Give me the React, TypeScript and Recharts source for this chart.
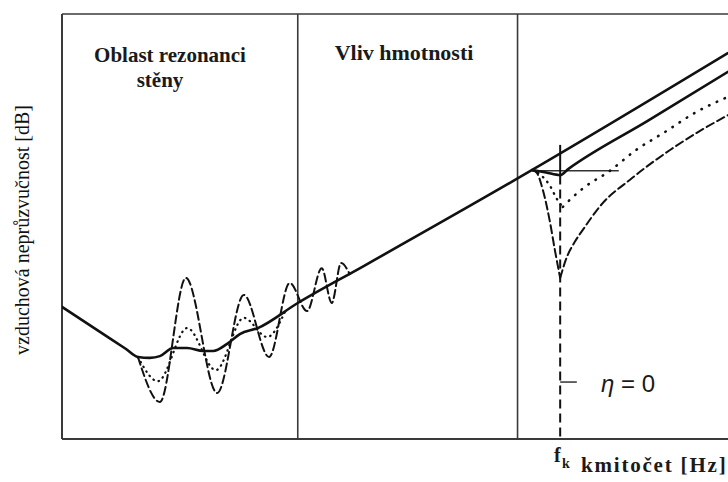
import React from 'react';
import { LineChart, Line, XAxis, YAxis, ReferenceLine } from 'recharts';

// x: relative log-frequency position (0..100), y: relative sound reduction index (0..100)

// solid: high damping curve (resonance region + mass law + continuation)
const massLawCurve = [
  { x: 0, y: 31.1 }, { x: 5.7, y: 25.2 }, { x: 9.5, y: 21.3 }, { x: 11.4, y: 19.3 },
  { x: 13.2, y: 19.1 }, { x: 14.7, y: 19.5 }, { x: 16.7, y: 21.4 }, { x: 18.8, y: 21.4 },
  { x: 21.2, y: 20.7 }, { x: 22.7, y: 20.7 }, { x: 24.8, y: 22.4 }, { x: 26.7, y: 24.7 },
  { x: 29.4, y: 26.1 }, { x: 35.4, y: 32.0 }, { x: 45.3, y: 40.7 }, { x: 70.6, y: 63.3 },
  { x: 100, y: 90.8 },
];

// dashed: low damping, resonance region
const dashedResonance = [
  { x: 11.4, y: 19.3 }, { x: 14.7, y: 8.7 }, { x: 18.6, y: 37.9 }, { x: 23.3, y: 10.8 },
  { x: 27.3, y: 33.9 }, { x: 31.1, y: 19.3 }, { x: 34.2, y: 36.7 }, { x: 36.8, y: 30.1 },
  { x: 39.0, y: 40.2 }, { x: 40.5, y: 32.0 }, { x: 41.9, y: 41.4 }, { x: 43.2, y: 38.8 },
];

// dotted: medium damping, resonance region
const dottedResonance = [
  { x: 11.4, y: 19.3 }, { x: 14.4, y: 13.6 }, { x: 18.8, y: 26.1 }, { x: 23.1, y: 16.2 },
  { x: 27.3, y: 28.5 }, { x: 30.8, y: 24.0 }, { x: 33.5, y: 30.0 },
];

// solid: high damping around coincidence frequency
const dampedCoincidence = [
  { x: 70.6, y: 63.3 }, { x: 72.7, y: 62.7 }, { x: 74.8, y: 62.1 }, { x: 76.0, y: 63.5 },
  { x: 88.0, y: 74.9 }, { x: 100, y: 86.4 },
];

// dotted: medium damping around coincidence frequency
const dottedCoincidenceLeft = [
  { x: 70.6, y: 63.3 }, { x: 71.9, y: 62.1 }, { x: 73.3, y: 59.5 }, { x: 74.3, y: 56.5 },
  { x: 75.2, y: 54.6 },
];
const dottedCoincidenceRight = [
  { x: 75.2, y: 54.6 }, { x: 76.4, y: 56.5 }, { x: 78.5, y: 59.3 }, { x: 82.0, y: 62.8 },
  { x: 86.2, y: 68.0 }, { x: 90.5, y: 72.2 }, { x: 95.2, y: 76.9 }, { x: 100, y: 80.5 },
];

// dashed: low damping around coincidence frequency
const dashedCoincidenceLeft = [
  { x: 70.6, y: 63.3 }, { x: 71.3, y: 62.6 }, { x: 72.2, y: 58.6 }, { x: 73.3, y: 50.8 },
  { x: 74.0, y: 44.5 }, { x: 74.8, y: 37.9 },
];
const dashedCoincidenceRight = [
  { x: 74.8, y: 37.9 }, { x: 75.8, y: 42.8 }, { x: 77.0, y: 46.4 }, { x: 78.2, y: 49.2 },
  { x: 80.8, y: 54.8 }, { x: 85.6, y: 61.4 }, { x: 91.3, y: 68.0 }, { x: 95.8, y: 72.5 },
  { x: 100, y: 76.2 },
];

// region borders and coincidence frequency
const regionBorders = [35.4, 68.4];
const fk = 74.8;
const fkTickTop = 69.2;
const fkSolidBottom = 62.0;
const etaTickY = 13.4;
const etaTickEnd = 77.3;
const plateauY = 63.1;
const plateauX = [70.6, 83.6];

const INK = '#111';
const FRAME = '#3a3a3a';
const SERIF = '"Liberation Serif", "Times New Roman", serif';
const SANS = '"Liberation Sans", Arial, sans-serif';

export default function App() {
  const lineCommon = {
    dataKey: 'y',
    type: 'monotone' as const,
    dot: false,
    activeDot: false,
    isAnimationActive: false,
    strokeLinecap: 'round' as const,
  };
  return (
    <div style={{ position: 'absolute', left: 0, top: 0, width: 728, height: 482, overflow: 'hidden', background: '#fff' }}>
      <LineChart width={728} height={482} margin={{ top: 14, right: 0, bottom: 43, left: 62 }}>
        <XAxis type="number" dataKey="x" domain={[0, 100]} hide allowDataOverflow />
        <YAxis type="number" dataKey="y" domain={[0, 100]} hide allowDataOverflow />
        <ReferenceLine x={0} stroke={FRAME} strokeWidth={2} ifOverflow="visible" />
        <ReferenceLine y={0} stroke={FRAME} strokeWidth={2} ifOverflow="visible" />
        <ReferenceLine y={100} stroke={FRAME} strokeWidth={1.6} ifOverflow="visible" />
        {regionBorders.map((b) => (
          <ReferenceLine key={b} x={b} stroke={FRAME} strokeWidth={1.6} ifOverflow="visible" />
        ))}
        <ReferenceLine segment={[{ x: plateauX[0], y: plateauY }, { x: plateauX[1], y: plateauY }]} stroke="#333" strokeWidth={1.5} ifOverflow="visible" />
        <ReferenceLine segment={[{ x: fk, y: fkTickTop }, { x: fk, y: fkSolidBottom }]} stroke={INK} strokeWidth={2} ifOverflow="visible" />
        <ReferenceLine segment={[{ x: fk, y: fkSolidBottom }, { x: fk, y: 0 }]} stroke={INK} strokeWidth={2} strokeDasharray="9 5" ifOverflow="visible" />
        <ReferenceLine segment={[{ x: fk, y: etaTickY }, { x: etaTickEnd, y: etaTickY }]} stroke="#333" strokeWidth={1.5} ifOverflow="visible" />

        <Line {...lineCommon} data={dashedResonance} stroke={INK} strokeWidth={2} strokeDasharray="8 4" />
        <Line {...lineCommon} data={dottedResonance} stroke={INK} strokeWidth={2.2} strokeDasharray="0.5 5" />
        <Line {...lineCommon} data={dashedCoincidenceLeft} stroke={INK} strokeWidth={2} strokeDasharray="8 4" />
        <Line {...lineCommon} data={dashedCoincidenceRight} stroke={INK} strokeWidth={2} strokeDasharray="8 4" />
        <Line {...lineCommon} data={dottedCoincidenceLeft} stroke={INK} strokeWidth={2.4} strokeDasharray="0.5 6" />
        <Line {...lineCommon} data={dottedCoincidenceRight} stroke={INK} strokeWidth={2.6} strokeDasharray="0.5 8" />
        <Line {...lineCommon} data={dampedCoincidence} stroke={INK} strokeWidth={2.6} />
        <Line {...lineCommon} data={massLawCurve} stroke={INK} strokeWidth={2.6} />
      </LineChart>
      <svg width={728} height={482} style={{ position: 'absolute', left: 0, top: 0, pointerEvents: 'none' }}>
        <text x={170} y={62} textAnchor="middle" fontFamily={SERIF} fontWeight="bold" fontSize={21} fill="#1a1a1a">Oblast rezonanci</text>
        <text x={160} y={87} textAnchor="middle" fontFamily={SERIF} fontWeight="bold" fontSize={21} fill="#1a1a1a">stěny</text>
        <text x={404} y={60} textAnchor="middle" fontFamily={SERIF} fontWeight="bold" fontSize={22} fill="#1a1a1a">Vliv hmotnosti</text>
        <text transform="translate(29,230) rotate(-90)" x={0} y={0} textAnchor="middle" fontFamily={SERIF} fontSize={20} fill="#111">vzduchová neprůzvučnost [dB]</text>
        <text x={554} y={462} fontFamily={SERIF} fontWeight="bold" fontSize={20} fill="#1a1a1a">f</text>
        <text x={562} y={468} fontFamily={SERIF} fontWeight="bold" fontSize={14} fill="#1a1a1a">k</text>
        <text x={581} y={472} fontFamily={SERIF} fontWeight="bold" fontSize={21} letterSpacing={1.8} fill="#1a1a1a">kmitočet [Hz]</text>
        <text x={601} y={392} fontFamily={SANS} fontSize={24} fill="#1a1a1a"><tspan fontStyle="italic">η</tspan> = 0</text>
      </svg>
    </div>
  );
}
